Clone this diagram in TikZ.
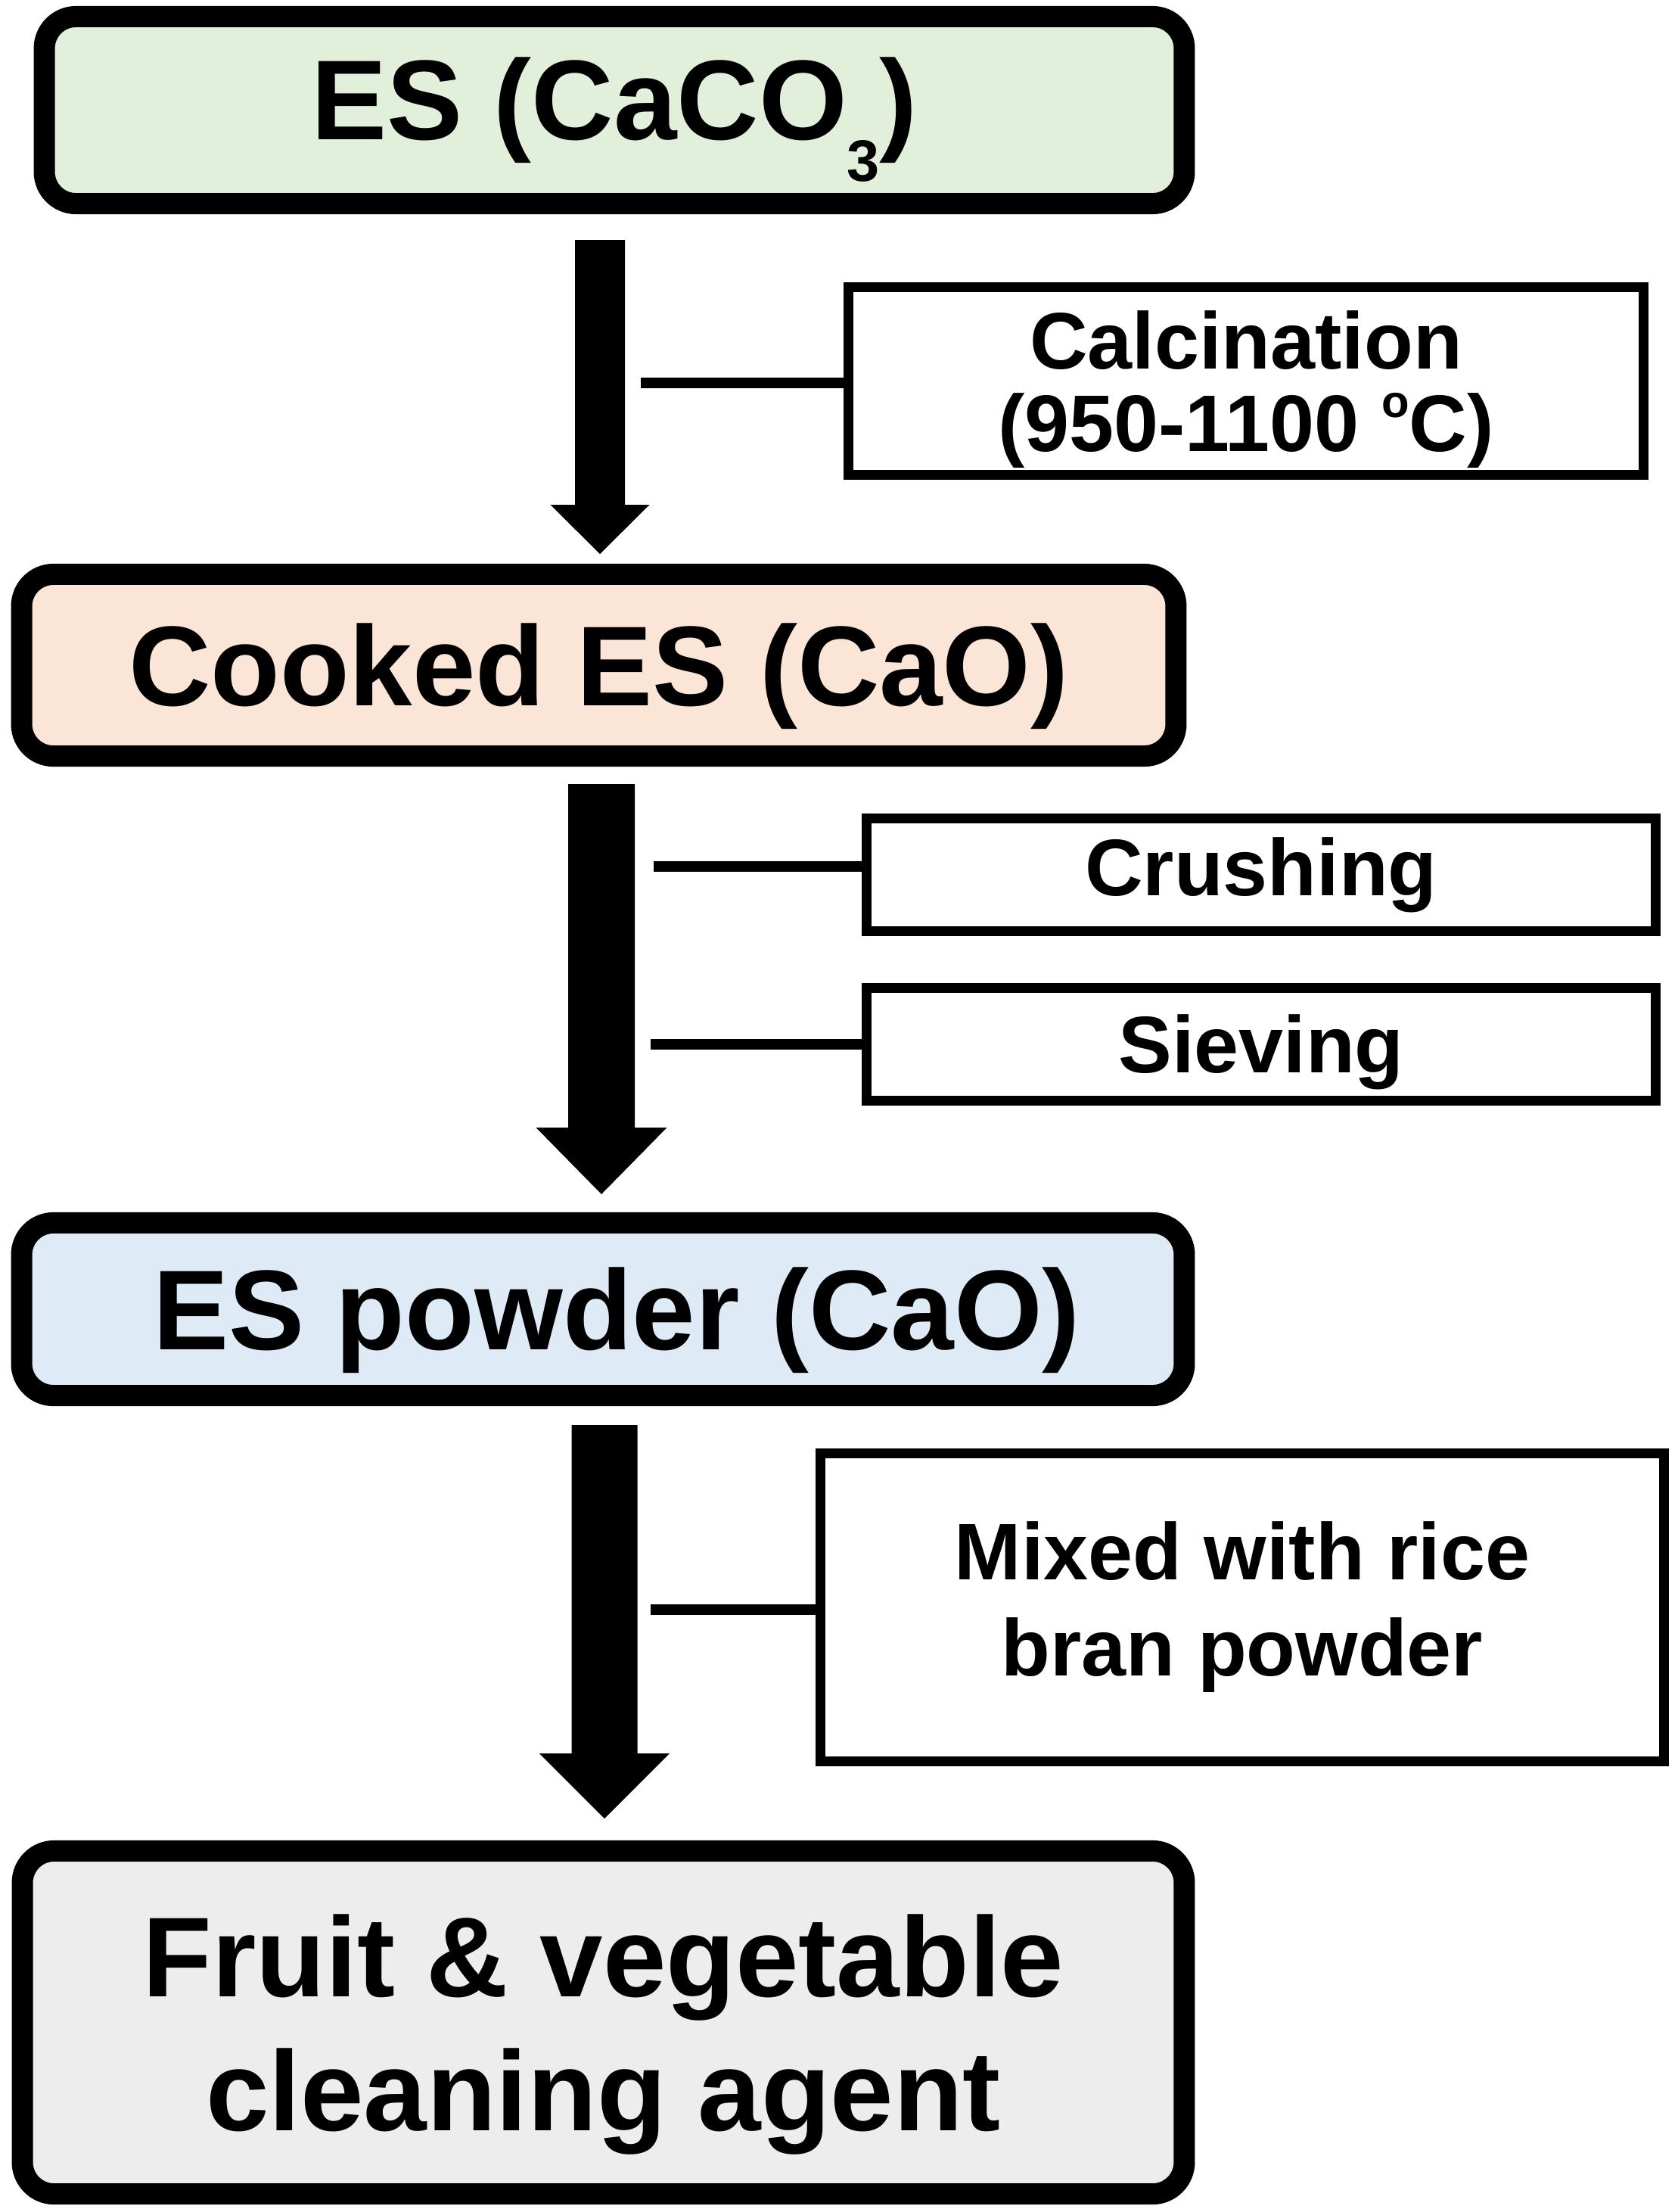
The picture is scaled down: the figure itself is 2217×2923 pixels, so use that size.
\documentclass[tikz,border=0pt]{standalone}
\usepackage{fontspec}
\setmainfont{Liberation Sans}
\usetikzlibrary{calc}
\definecolor{esgreen}{RGB}{226,239,218}
\definecolor{espeach}{RGB}{251,229,214}
\definecolor{esblue}{RGB}{222,235,247}
\definecolor{esgray}{RGB}{237,237,237}
\newcommand{\bigfnt}{\fontsize{42.68pt}{50.36pt}\selectfont\bfseries}
\newcommand{\smallfnt}{\fontsize{30.16pt}{31pt}\selectfont\bfseries}
\newcommand{\smallfntb}{\fontsize{30.16pt}{36.1pt}\selectfont\bfseries}
% #1 start coordinate, #2 tip coordinate, #3 half shaft width, #4 half head width, #5 head length
\newcommand{\fatarrow}[5]{%
  \fill[black] ($(#1)+(-#3,0)$) -- ($(#2)+(-#3,-#5)$) -- ($(#2)+(-#4,-#5)$) -- (#2)
    -- ($(#2)+(#4,-#5)$) -- ($(#2)+(#3,-#5)$) -- ($(#1)+(#3,0)$) -- cycle;}
\begin{document}
\begin{tikzpicture}[x=0.01cm,y=-0.01cm,
  mainbox/.style={draw=black, line width=0.28cm, rounded corners=0.42cm, inner sep=0pt, align=center, font=\bigfnt},
  labelbox/.style={draw=black, line width=0.13cm, fill=white, inner sep=0pt, align=center, font=\smallfnt},
  conn/.style={draw=black, line width=0.14cm}]
\path[fill=white] (0,0) rectangle (2217,2923);
\useasboundingbox (0,0) rectangle (2217,2923);

% main boxes
\node[mainbox, fill=esgreen, minimum width=15.06cm, minimum height=2.47cm, text height=1.074cm, text depth=0.3cm]
  (b1) at (812,145.5) {ES (CaCO\raisebox{-0.37em}{\fontsize{22pt}{22pt}\selectfont 3})};
\node[mainbox, fill=espeach, minimum width=15.25cm, minimum height=2.40cm, text height=1.074cm, text depth=0cm]
  (b2) at (791.5,879) {Cooked ES (CaO)};
\node[mainbox, fill=esblue, minimum width=15.36cm, minimum height=2.28cm, text height=1.074cm, text depth=0cm]
  (b3) at (797,1730) {\hspace*{0.36cm}ES powder (CaO)};
\node[mainbox, fill=esgray, minimum width=15.35cm, minimum height=4.53cm, text depth=0cm]
  (b4) at (797.5,2672.5) {Fruit \& vegetable\\cleaning agent};

% label boxes
\node[labelbox, minimum width=10.51cm, minimum height=2.48cm, text depth=0cm]
  (calc) at (1647,503.5) {Calcination\\(950-1100 \raisebox{0.42em}{\fontsize{17pt}{17pt}\selectfont o}C)};
\node[labelbox, minimum width=10.43cm, minimum height=1.49cm]
  (crush) at (1667,1156) {Crushing};
\node[labelbox, minimum width=10.43cm, minimum height=1.49cm, text height=0.759cm, text depth=0cm]
  (sieve) at (1667,1380) {Sieving};
\node[labelbox, font=\smallfntb, minimum width=11.15cm, minimum height=4.07cm]
  (mix) at (1642,2124) {Mixed with rice\\bran powder};

% big arrows
\coordinate (a1s) at (793,317);  \coordinate (a1e) at (793,732);
\coordinate (a2s) at (795,1036); \coordinate (a2e) at (795,1578);
\coordinate (a3s) at (799,1883); \coordinate (a3e) at (799,2403);
\fatarrow{a1s}{a1e}{33}{65.5}{65}
\fatarrow{a2s}{a2e}{44}{86.5}{88}
\fatarrow{a3s}{a3e}{43.5}{86}{86}

% connectors
\coordinate (c1) at (847,506);
\coordinate (c2) at (864,1145);
\coordinate (c3) at (860,1380);
\coordinate (c4) at (860,2127);
\draw[conn] (c1) -- (c1 -| calc.west);
\draw[conn] (c2) -- (c2 -| crush.west);
\draw[conn] (c3) -- (c3 -| sieve.west);
\draw[conn] (c4) -- (c4 -| mix.west);
\end{tikzpicture}
\end{document}
